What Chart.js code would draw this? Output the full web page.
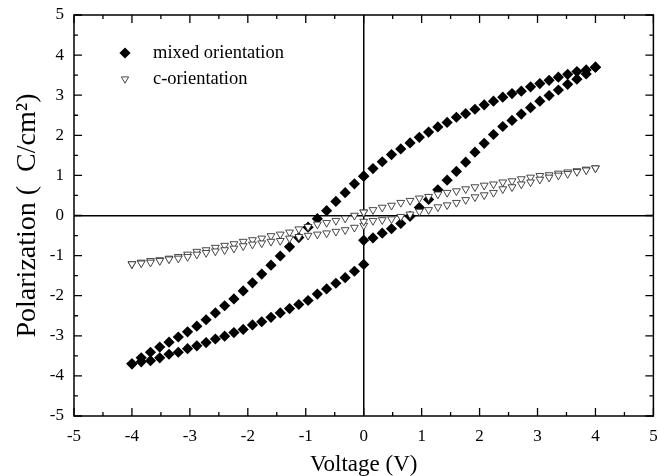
<!DOCTYPE html>
<html>
<head>
<meta charset="utf-8">
<title>Polarization vs Voltage</title>
<script src="https://cdn.jsdelivr.net/npm/chart.js@4.4.1/dist/chart.umd.min.js"></script>
<style>
  html, body { margin: 0; padding: 0; background: #fff; }
  #wrap { width: 659px; height: 476px; }
</style>
</head>
<body>
<div id="wrap"><canvas id="peChart" width="659" height="476"></canvas></div>
<script>
// P-V hysteresis loops: mixed vs c-orientation films.
// Each loop is stored as four branches (upper/lower, negative/positive side).

const VOLT_NEG = [-4.00, -3.84, -3.68, -3.52, -3.36, -3.20, -3.04, -2.88, -2.72, -2.56, -2.40, -2.24, -2.08,
                  -1.92, -1.76, -1.60, -1.44, -1.28, -1.12, -0.96, -0.80, -0.64, -0.48, -0.32, -0.16, 0];
const VOLT_POS = [0, 0.16, 0.32, 0.48, 0.64, 0.80, 0.96, 1.12, 1.28, 1.44, 1.60, 1.76, 1.92,
                  2.08, 2.24, 2.40, 2.56, 2.72, 2.88, 3.04, 3.20, 3.36, 3.52, 3.68, 3.84, 4.00];

// mixed orientation
const MIXED_UP_NEG = [-3.70, -3.55, -3.41, -3.28, -3.16, -3.03, -2.90, -2.76, -2.60, -2.43, -2.25, -2.08, -1.88,
                      -1.68, -1.46, -1.24, -1.01, -0.78, -0.55, -0.29, -0.08, 0.12, 0.35, 0.57, 0.79, 0.98];
const MIXED_UP_POS = [0.98, 1.17, 1.34, 1.52, 1.66, 1.81, 1.95, 2.08, 2.21, 2.32, 2.45, 2.54, 2.65,
                      2.76, 2.85, 2.95, 3.04, 3.10, 3.21, 3.29, 3.37, 3.45, 3.52, 3.59, 3.63, 3.70];
const MIXED_DN_NEG = [-3.70, -3.65, -3.62, -3.55, -3.46, -3.41, -3.32, -3.25, -3.17, -3.08, -3.01, -2.92, -2.84,
                      -2.73, -2.65, -2.54, -2.43, -2.32, -2.22, -2.12, -1.96, -1.83, -1.69, -1.55, -1.39, -1.22];
const MIXED_DN_POS = [-0.62, -0.56, -0.44, -0.33, -0.20, -0.02, 0.20, 0.40, 0.64, 0.88, 1.10, 1.33, 1.58,
                      1.80, 2.02, 2.22, 2.37, 2.53, 2.69, 2.85, 2.99, 3.13, 3.27, 3.40, 3.53, 3.70];

// c-orientation
const C_UP_NEG = [-1.21, -1.17, -1.13, -1.11, -1.07, -1.03, -0.97, -0.90, -0.86, -0.80, -0.75, -0.71, -0.65,
                  -0.61, -0.57, -0.51, -0.47, -0.42, -0.34, -0.28, -0.22, -0.18, -0.13, -0.07, 0.00, 0.08];
const C_UP_POS = [0.08, 0.14, 0.20, 0.25, 0.32, 0.37, 0.43, 0.47, 0.53, 0.57, 0.61, 0.66, 0.71,
                  0.75, 0.78, 0.83, 0.86, 0.91, 0.95, 0.99, 1.01, 1.05, 1.08, 1.11, 1.15, 1.18];
const C_DN_NEG = [-1.21, -1.19, -1.17, -1.13, -1.09, -1.07, -1.03, -0.97, -0.93, -0.89, -0.86, -0.82, -0.76,
                  -0.72, -0.69, -0.65, -0.63, -0.57, -0.53, -0.50, -0.47, -0.44, -0.40, -0.36, -0.30, -0.25];
const C_DN_POS = [-0.15, -0.13, -0.11, -0.09, -0.03, 0.03, 0.10, 0.14, 0.21, 0.26, 0.32, 0.39, 0.46,
                  0.51, 0.57, 0.66, 0.71, 0.78, 0.83, 0.90, 0.95, 1.00, 1.04, 1.09, 1.13, 1.18];

const SERIES_NAMES = ['mixed orientation', 'c-orientation'];
const AXIS_MIN = -5;
const AXIS_MAX = 5;

const SERIF = '"Liberation Serif", "Times New Roman", Times, serif';

function pairs(xs, ys) {
    return xs.map((v, i) => ({ x: v, y: ys[i] }));
}

const mixedPoints = [].concat(
    pairs(VOLT_POS, MIXED_UP_POS), pairs(VOLT_NEG, MIXED_UP_NEG),
    pairs(VOLT_NEG, MIXED_DN_NEG), pairs(VOLT_POS, MIXED_DN_POS));
const cPoints = [].concat(
    pairs(VOLT_POS, C_UP_POS), pairs(VOLT_NEG, C_UP_NEG),
    pairs(VOLT_NEG, C_DN_NEG), pairs(VOLT_POS, C_DN_POS));

// box frame + inward major/minor ticks on all four sides
const frameTicks = {
    id: 'frameTicks',
    afterDraw(chart) {
        const { ctx, chartArea: a, scales: { x, y } } = chart;
        const MAJOR = 8, MINOR = 4;
        ctx.save();
        ctx.strokeStyle = '#000';
        ctx.lineWidth = 1.5;
        ctx.strokeRect(a.left, a.top, a.right - a.left, a.bottom - a.top);
        ctx.lineWidth = 1.3;
        ctx.beginPath();
        for (let v = AXIS_MIN; v <= AXIS_MAX; v += 0.5) {
            const len = Number.isInteger(v) ? MAJOR : MINOR;
            const px = x.getPixelForValue(v);
            ctx.moveTo(px, a.bottom); ctx.lineTo(px, a.bottom - len);
            ctx.moveTo(px, a.top);    ctx.lineTo(px, a.top + len);
            const py = y.getPixelForValue(v);
            ctx.moveTo(a.left, py);  ctx.lineTo(a.left + len, py);
            ctx.moveTo(a.right, py); ctx.lineTo(a.right - len, py);
        }
        ctx.stroke();
        ctx.restore();
    }
};

// legend sits inside the plot, top-left
const insideLegend = {
    id: 'insideLegend',
    afterDatasetsDraw(chart) {
        const { ctx, chartArea: a } = chart;
        const rows = [chart.data.datasets[0], chart.data.datasets[1]];
        ctx.save();
        rows.forEach((ds, i) => {
            const cx = a.left + 51;
            const cy = a.top + 38 + i * 26;
            ctx.fillStyle = ds.backgroundColor;
            ctx.strokeStyle = ds.borderColor;
            ctx.lineWidth = ds.borderWidth;
            Chart.helpers.drawPoint(ctx, {
                pointStyle: ds.pointStyle,
                rotation: ds.rotation || 0,
                radius: ds.legendRadius,
                borderWidth: ds.borderWidth
            }, cx, cy);
            ctx.fillStyle = '#000';
            ctx.font = '18.5px ' + SERIF;
            ctx.textAlign = 'left';
            ctx.textBaseline = 'middle';
            ctx.fillText(ds.label, a.left + 79, cy);
        });
        ctx.restore();
    }
};

const zeroLine = (c) => (c.tick && c.tick.value === 0 ? '#000' : 'rgba(0,0,0,0)');
const tickFont = { family: SERIF, size: 17 };

new Chart(document.getElementById('peChart'), {
    type: 'scatter',
    data: {
        datasets: [
            {
                label: SERIES_NAMES[0],
                data: mixedPoints,
                pointStyle: 'rectRot',
                pointRadius: 5.6,
                legendRadius: 5.6,
                backgroundColor: '#000',
                borderColor: '#000',
                borderWidth: 0,
                order: 1
            },
            {
                label: SERIES_NAMES[1],
                data: cPoints,
                pointStyle: 'triangle',
                rotation: 180,
                pointRadius: 4.5,
                legendRadius: 4.2,
                backgroundColor: '#fff',
                borderColor: '#333',
                borderWidth: 0.9,
                order: 0
            }
        ]
    },
    options: {
        responsive: false,
        animation: false,
        devicePixelRatio: 1,
        layout: { padding: { top: 15, right: 5, left: 0, bottom: 0 } },
        plugins: {
            legend: { display: false },
            tooltip: { enabled: false }
        },
        scales: {
            x: {
                type: 'linear',
                min: AXIS_MIN,
                max: AXIS_MAX,
                afterFit: (s) => { s.height = 60; },
                border: { display: false },
                grid: { color: zeroLine, lineWidth: 1.5, drawTicks: true, tickLength: 10, tickColor: 'rgba(0,0,0,0)' },
                ticks: { stepSize: 1, padding: 0, color: '#000', font: tickFont },
                title: {
                    display: true,
                    text: 'Voltage (V)',
                    color: '#000',
                    font: { family: SERIF, size: 23, lineHeight: 1.0 },
                    padding: { top: 0, bottom: 0 }
                }
            },
            y: {
                type: 'linear',
                min: AXIS_MIN,
                max: AXIS_MAX,
                afterFit: (s) => { s.width = 74; },
                border: { display: false },
                grid: { color: zeroLine, lineWidth: 1.5, drawTicks: true, tickLength: 10, tickColor: 'rgba(0,0,0,0)' },
                ticks: { stepSize: 1, padding: 0, color: '#000', font: tickFont },
                title: {
                    display: true,
                    text: 'Polarization (  C/cm\u00b2)',
                    color: '#000',
                    font: { family: SERIF, size: 28, lineHeight: 1.0 },
                    padding: { top: 14, bottom: 0 }
                }
            }
        }
    },
    plugins: [frameTicks, insideLegend]
});
</script>
</body>
</html>
